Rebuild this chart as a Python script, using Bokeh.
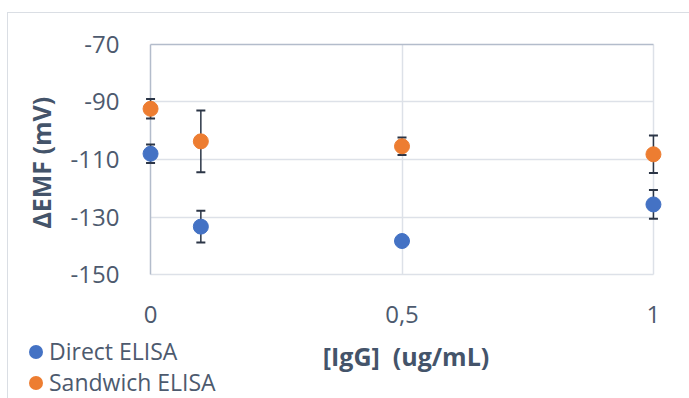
from bokeh.plotting import figure
from bokeh.layouts import column
from bokeh.models import (ColumnDataSource, Whisker, TeeHead, FixedTicker, Grid,
                          Range1d, Div)
from bokeh.embed import file_html
from bokeh.resources import INLINE

# ---- data ----
conc = [0, 0.1, 0.5, 1]
direct_vals = [-108.0, -133.3, -138.3, -125.6]
direct_err = [3.2, 5.5, 0.0, 5.0]
sandwich_vals = [-92.4, -103.7, -105.4, -108.2]
sandwich_err = [3.4, 10.7, 3.0, 6.5]
series_names = ["Direct ELISA", "Sandwich ELISA"]
x_ticks = [0, 0.5, 1]
x_tick_labels = ["0", "0,5", "1"]
y_ticks = [-70, -90, -110, -130, -150]
y_tick_labels = ["-70", "-90", "-110", "-130", "-150"]
x_title = "[IgG]  (ug/mL)"
y_title = "\u2206EMF  (mV)"

BLUE = "#4472C4"
ORANGE = "#ED7D31"
series_colors = [BLUE, ORANGE]
TEXT = "#44546A"
TICKTXT = "#4d5a6e"
GRID = "#dde1e8"
AXLINE = "#b3bccb"
ERR = "#2b3546"
FONT = "Open Sans"
FRAME = "1px solid #dadee4"

p = figure(width=682, height=323, output_backend="svg", toolbar_location=None,
           x_range=Range1d(-0.02, 1.02), y_range=Range1d(-152, -68),
           min_border_left=132, min_border_right=27, min_border_top=25,
           min_border_bottom=56, margin=(12, 0, 0, 7),
           styles={"border-left": FRAME, "border-top": FRAME})
p.outline_line_color = None
p.background_fill_color = "white"
p.border_fill_color = "white"

# grids limited to data extent
p.xgrid.ticker = FixedTicker(ticks=[0.5, 1])
p.xgrid.cross_bounds = (-150, -70)
p.xgrid.grid_line_color = GRID
p.xgrid.grid_line_width = 1.5
p.ygrid.ticker = FixedTicker(ticks=[-90, -110, -130, -150])
p.ygrid.cross_bounds = (0, 1)
p.ygrid.grid_line_color = GRID
p.ygrid.grid_line_width = 1.5
# darker axis lines (x axis crossing at -70 and y axis at 0)
p.add_layout(Grid(dimension=1, ticker=FixedTicker(ticks=[-70]), cross_bounds=(0, 1),
                  grid_line_color=AXLINE, grid_line_width=1.5))
p.add_layout(Grid(dimension=0, ticker=FixedTicker(ticks=[0]), cross_bounds=(-150, -70),
                  grid_line_color=AXLINE, grid_line_width=1.5))

# axes
p.xaxis.ticker = FixedTicker(ticks=x_ticks)
p.xaxis.major_label_overrides = {t: l for t, l in zip(x_ticks, x_tick_labels)}
p.yaxis.ticker = FixedTicker(ticks=y_ticks)
p.yaxis.major_label_overrides = {t: l for t, l in zip(y_ticks, y_tick_labels)}
for ax in (p.xaxis[0], p.yaxis[0]):
    ax.axis_line_color = None
    ax.major_tick_line_color = None
    ax.minor_tick_line_color = None
    ax.major_label_text_font = FONT
    ax.major_label_text_font_size = "24px"
    ax.major_label_text_color = TICKTXT
    ax.axis_label_text_font = FONT
    ax.axis_label_text_font_size = "25px"
    ax.axis_label_text_font_style = "bold"
    ax.axis_label_text_color = TEXT
p.xaxis.major_label_standoff = 19
p.yaxis.major_label_standoff = 15
p.yaxis.axis_label = y_title
p.yaxis.axis_label_standoff = 10

# data sources
def mk(vals, err):
    return ColumnDataSource(dict(x=conc, y=vals,
                                 lo=[v - e for v, e in zip(vals, err)],
                                 hi=[v + e for v, e in zip(vals, err)]))

src_d = mk(direct_vals, direct_err)
src_s = mk(sandwich_vals, sandwich_err)

for src in (src_d, src_s):
    w = Whisker(source=src, base="x", lower="lo", upper="hi",
                line_color=ERR, line_width=1.5,
                upper_head=TeeHead(size=9, line_color=ERR, line_width=2),
                lower_head=TeeHead(size=9, line_color=ERR, line_width=2))
    p.add_layout(w)

p.scatter("x", "y", source=src_d, size=15, fill_color=BLUE, line_color=BLUE)
p.scatter("x", "y", source=src_s, size=15, fill_color=ORANGE, line_color=ORANGE)

# ---- bottom strip: legend + x-axis title (HTML text) ----
rows = ""
for i, (name, col) in enumerate(zip(series_names, series_colors)):
    rows += (
        f'<div style="position:absolute;left:21px;top:{1 + 31 * i}px;height:30px;'
        f'line-height:30px;white-space:nowrap;font-size:23px;color:{TICKTXT};">'
        f'<span style="display:inline-block;width:14px;height:14px;border-radius:50%;'
        f'background:{col};vertical-align:middle;margin-right:6px;position:relative;top:-2px;"></span>'
        f'{name}</div>'
    )
title_html = (
    f'<div style="position:absolute;left:398px;top:6px;transform:translateX(-50%);'
    f'height:30px;line-height:30px;white-space:pre;font-size:25px;font-weight:bold;'
    f'color:{TEXT};">{x_title}</div>'
)
html = (f'<div style="position:relative;width:681px;height:63px;'
        f'font-family:\'{FONT}\';background:white;">{rows}{title_html}</div>')
q = Div(text=html, width=682, height=63, margin=(0, 0, 0, 7),
        styles={"border-left": FRAME, "background": "white"})

layout = column(p, q, spacing=0)
open("out.html", "w").write(file_html(layout, INLINE))
